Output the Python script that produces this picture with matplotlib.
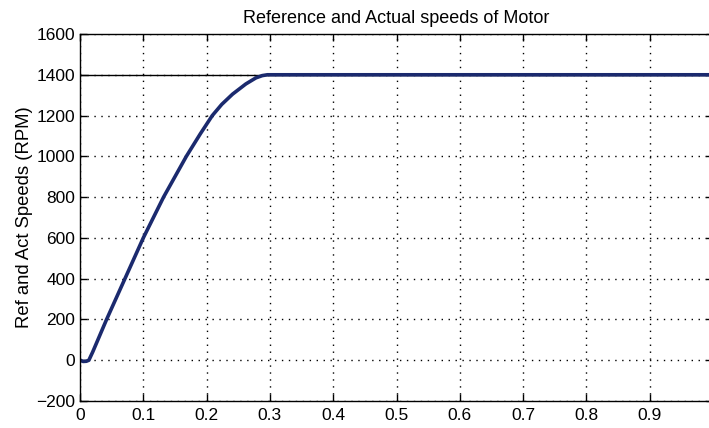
import matplotlib
matplotlib.use('Agg')
import matplotlib.pyplot as plt
import numpy as np

# motor speed data (time in s, speed in RPM)
t_act = [0.0, 0.005, 0.010, 0.014, 0.020, 0.042, 0.071, 0.100, 0.132,
         0.168, 0.190, 0.209, 0.224, 0.241, 0.262, 0.278, 0.288, 0.296, 1.0]
speed_act = [0, -6, -5, 0, 40, 200, 400, 600, 800,
             1000, 1110, 1200, 1255, 1305, 1355, 1385, 1396, 1400, 1400]

t_ref = [0.0, 1.0]
speed_ref = [1400, 1400]

x_ticks = np.arange(0, 1.01, 0.1)
y_ticks = np.arange(-200, 1601, 200)

plt.rcParams['font.family'] = ['Liberation Sans', 'DejaVu Sans']

fig = plt.figure(figsize=(7.09, 4.28), dpi=100)
ax = fig.add_axes([80 / 709, 27 / 428, 633 / 709, 367 / 428])

ax.plot(t_ref, speed_ref, color='black', linewidth=1.0)
ax.plot(t_act, speed_act, color='#1b2a6e', linewidth=2.6)

ax.set_xlim(0, 1)
ax.set_ylim(-200, 1600)
ax.set_xticks(x_ticks)
# the "1" label sits past the right edge of the picture, as in the original
ax.set_xticklabels(['0'] + [f'{v:.1f}' for v in x_ticks[1:-1]] + [''])
ax.set_yticks(y_ticks)

ax.grid(True, color='black', linestyle=(0, (1, 4)), linewidth=1.0)
ax.tick_params(direction='in', top=True, right=True, length=5,
               labelsize=12.5, width=1)
ax.tick_params(axis='x', pad=5)
for s in ax.spines.values():
    s.set_linewidth(1.0)

ax.set_title('Reference and Actual speeds of Motor', fontsize=13, pad=8)
ax.set_ylabel('Ref and Act Speeds (RPM)', fontsize=13.3, labelpad=2)

fig.savefig('out.png', dpi=100)
